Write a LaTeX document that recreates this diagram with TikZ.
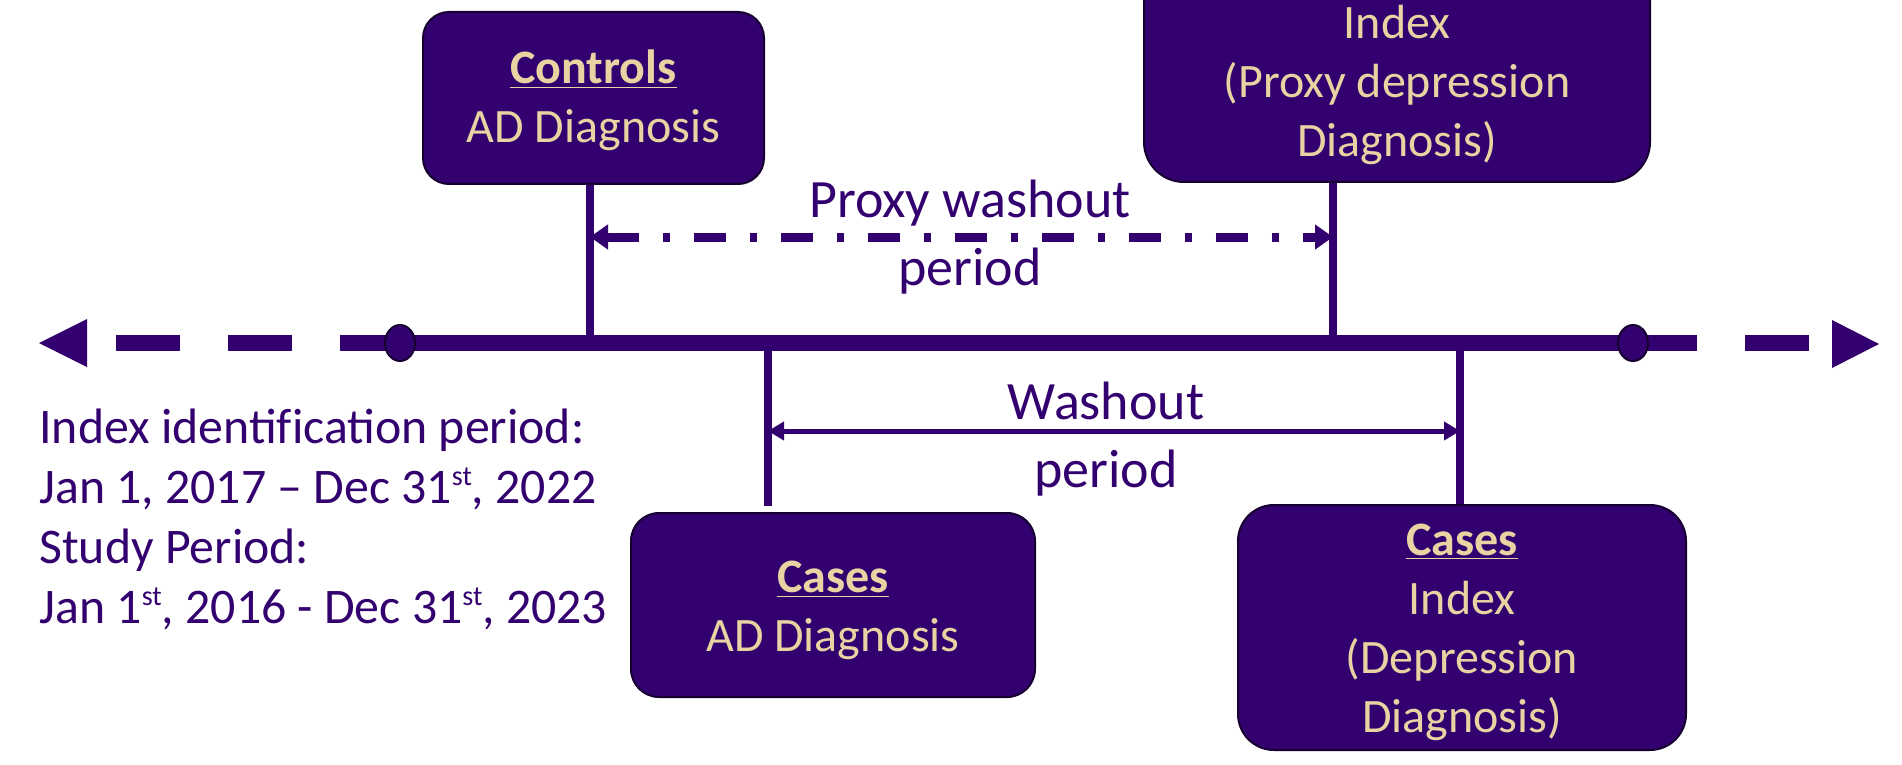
\documentclass[tikz,border=0pt]{standalone}
\usepackage{fontspec}
\setmainfont{Carlito}
\usetikzlibrary{arrows.meta,calc}
\definecolor{uwpurple}{RGB}{51,0,111}
\definecolor{uwgold}{RGB}{232,211,162}
\definecolor{edgedark}{RGB}{22,0,48}
\newcommand{\supx}[1]{\raisebox{0.38em}{\fontsize{14}{14}\selectfont #1}}
\begin{document}
\begin{tikzpicture}[x=0.5pt,y=-0.5pt,
  box/.style={draw=edgedark, line width=1pt, fill=uwpurple, rounded corners=13pt,
    text=uwgold, align=center, font=\fontsize{24}{29.5}\selectfont, inner sep=0pt},
  boxtext/.style={text=uwgold, align=center, font=\fontsize{24}{29.5}\selectfont, inner sep=0pt},
  tick/.style={draw=uwpurple, line width=4pt},
  tl/.style={draw=uwpurple, line width=8pt},
  lbl/.style={text=uwpurple, align=center, font=\fontsize{27}{34}\selectfont, inner sep=0pt},
  note/.style={text=uwpurple, align=left, font=\fontsize{24.9}{30}\selectfont, inner sep=0pt},
  dot/.style={fill=uwpurple, draw=edgedark, line width=1pt}]
\useasboundingbox (0,0) rectangle (1902,765);
\clip (0,0) rectangle (1902,765);
% boxes
\node[box, minimum width=170.5pt, minimum height=86pt] (ctrl) at (593.5,98)
  {\rule{0pt}{19.5pt}\textbf{\underline{Controls}}\\AD Diagnosis};
\node[box, rounded corners=20pt, minimum width=253pt, minimum height=130pt, anchor=south] (proxy) at (1397,183) {};
\node[boxtext, anchor=south] (proxytxt) at (1397,165) {Index\\(Proxy depression\\Diagnosis)};
\node[box, rounded corners=14pt, minimum width=202pt, minimum height=92pt] (casesAD) at (833,605)
  {\rule{0pt}{21.5pt}\textbf{\underline{Cases}}\\AD Diagnosis};
\node[box, rounded corners=18pt, minimum width=224pt, minimum height=122.5pt] (casesIdx) at (1462,627.5)
  {\rule{0pt}{20.5pt}\textbf{\underline{Cases}}\\Index\\(Depression\\Diagnosis)};
% timeline anchor points
\coordinate (tC) at (590,343);
\coordinate (tP) at (1333,343);
\coordinate (tA) at (768,343);
\coordinate (tI) at (1460,343);
\coordinate (eA) at (768,506);
% vertical ticks
\draw[tick] (ctrl.south -| tC) -- (tC);
\draw[tick] (proxy.south -| tP) -- (tP);
\draw[tick] (tA) -- (eA);
\draw[tick] (tI) -- (casesIdx.north -| tI);
% timeline
\coordinate (L0) at (116,343);
\coordinate (L1) at (400,343);
\coordinate (R1) at (1633,343);
\coordinate (R0) at (1809,343);
\draw[tl, dash pattern=on 32pt off 24pt] (L0) -- (404,343);
\draw[tl] (L1) -- (R1);
\draw[tl, dash pattern=on 32pt off 24pt] (R1) -- (R0);
\fill[uwpurple] (39,343) -- (87,319) -- (87,367) -- cycle;
\fill[uwpurple] (1879,344) -- (1832,320) -- (1832,368) -- cycle;
\draw[dot] (L1) ellipse [x radius=15, y radius=18];
\draw[dot] (R1) ellipse [x radius=15, y radius=18];
% period arrows
\coordinate (pa1) at (590,237);
\coordinate (pa2) at (1333,237);
\draw[uwpurple, line width=4.5pt, dash pattern=on 16pt off 12pt on 3.5pt off 12pt,
  {Triangle[length=9pt,width=12pt]}-{Triangle[length=9pt,width=12pt]}] (pa1) -- (pa2);
\coordinate (wa1) at (768,431);
\coordinate (wa2) at (1460,431);
\draw[uwpurple, line width=2.5pt,
  {Triangle[length=8pt,width=9pt]}-{Triangle[length=8pt,width=9pt]}] (wa1) -- (wa2);
% labels
\node[lbl] (pwl) at (970,237) {Proxy washout\\period};
\node[lbl] (wl) at (1106,439) {Washout\\period};
\node[note, anchor=north west] (notes) at (39,409)
  {Index identif\kern0pt ication period:\\
   Jan 1, 2017 -- Dec 31\supx{st}, 2022\\
   Study Period:\\
   Jan 1\supx{st}, 2016 - Dec 31\supx{st}, 2023};
\end{tikzpicture}
\end{document}
